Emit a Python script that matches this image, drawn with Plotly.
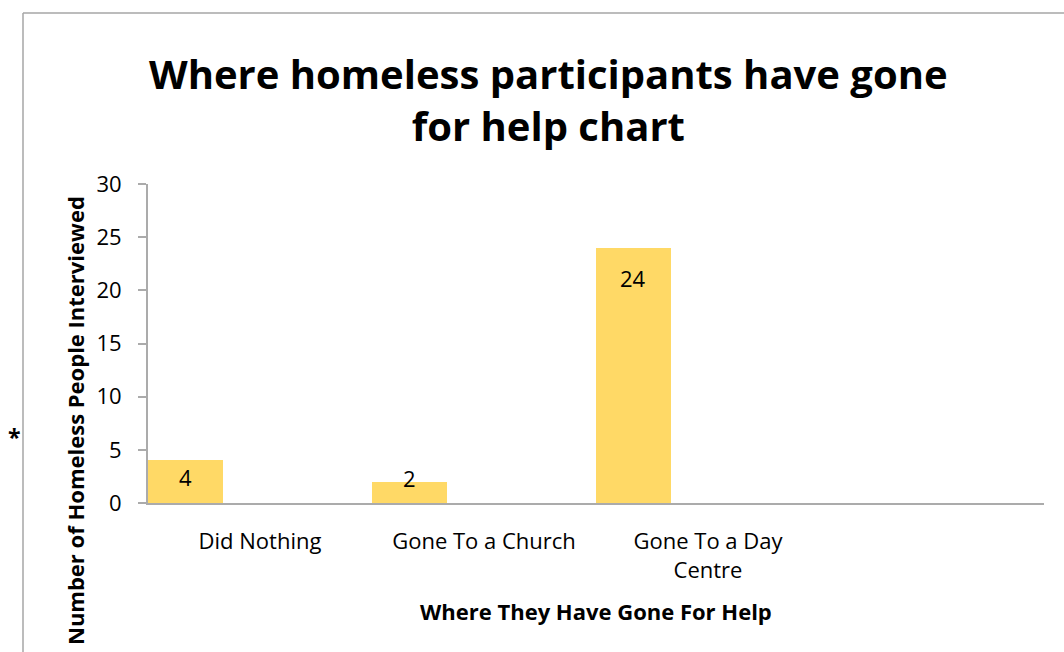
import plotly.graph_objects as go

# Survey results: where homeless participants went for help
categories = ["Did Nothing", "Gone To a Church", "Gone To a Day<br>Centre"]
counts = [4, 2, 24]
y_ticks = [0, 5, 10, 15, 20, 25, 30]

FONT = "Open Sans, sans-serif"
BAR = "#FFD966"
GRID = "#ABABAB"
FS = 22

W, H = 1064, 652
L, R, T, B = 148, 20, 184, 149
PW, PH = W - L - R, H - T - B


def px_x(px):
    return (px - L) / PW


def px_y(py):
    return (H - B - py) / PH


fig = go.Figure()
fig.add_trace(go.Bar(
    x=categories,
    y=counts,
    width=1 / 3,
    offset=-0.5,
    marker=dict(color=BAR, line=dict(width=0)),
    showlegend=False,
    hoverinfo="x+y",
))

# value labels, placed near the top of each bar
label_shift = [-17, 4, -30]
for cat, val, dy in zip(categories, counts, label_shift):
    fig.add_annotation(
        x=cat, y=val, xref="x", yref="y",
        xshift=-224 / 3, yshift=dy,
        text=str(val), showarrow=False,
        font=dict(family=FONT, size=FS, color="#000000"),
        xanchor="center", yanchor="middle",
    )

# chart title
fig.add_annotation(
    x=px_x(548), y=px_y(99), xref="paper", yref="paper",
    text="<b>Where homeless participants have gone<br>for help chart</b>",
    showarrow=False, align="center",
    font=dict(family=FONT, size=40, color="#000000"),
    xanchor="center", yanchor="middle",
)

# y-axis title
fig.add_annotation(
    x=px_x(75), y=px_y(421), xref="paper", yref="paper",
    text="<b>Number of Homeless People Interviewed</b>",
    textangle=-90, showarrow=False,
    font=dict(family=FONT, size=FS, color="#000000"),
    xanchor="center", yanchor="middle",
)

# x-axis title
fig.add_annotation(
    x=0.5, y=px_y(611), xref="paper", yref="paper",
    text="<b>Where They Have Gone For Help</b>",
    showarrow=False,
    font=dict(family=FONT, size=FS, color="#000000"),
    xanchor="center", yanchor="middle",
)

# footnote marker
fig.add_annotation(
    x=px_x(14), y=px_y(437), xref="paper", yref="paper",
    text="<b>*</b>", showarrow=False,
    font=dict(family=FONT, size=FS + 1, color="#000000"),
    xanchor="center", yanchor="middle",
)

# outer frame (top and left edges)
fig.add_shape(type="line", xref="paper", yref="paper",
              x0=px_x(23), x1=px_x(W + 5), y0=px_y(13), y1=px_y(13),
              line=dict(color="#A6A6A6", width=1.5))
fig.add_shape(type="line", xref="paper", yref="paper",
              x0=px_x(23), x1=px_x(23), y0=px_y(13), y1=px_y(H + 5),
              line=dict(color="#A6A6A6", width=1.5))

fig.update_layout(
    width=W, height=H,
    margin=dict(l=L, r=R, t=T, b=B),
    paper_bgcolor="white", plot_bgcolor="white",
    bargap=0, barmode="group",
    font=dict(family=FONT, size=FS, color="#000000"),
)
fig.update_xaxes(
    type="category",
    range=[-0.5, 3.5],
    showline=True, linecolor=GRID, linewidth=2,
    ticks="", showgrid=False, zeroline=False,
    tickfont=dict(family=FONT, size=FS, color="#000000"),
    ticklabelstandoff=18,
    fixedrange=True,
)
fig.update_yaxes(
    range=[0, 30],
    tickvals=y_ticks,
    showline=True, linecolor=GRID, linewidth=2,
    ticks="outside", ticklen=8, tickcolor=GRID, tickwidth=2,
    showgrid=False, zeroline=False,
    tickfont=dict(family=FONT, size=FS, color="#000000"),
    ticklabelstandoff=12,
    fixedrange=True,
)

fig.write_html("out.html")
